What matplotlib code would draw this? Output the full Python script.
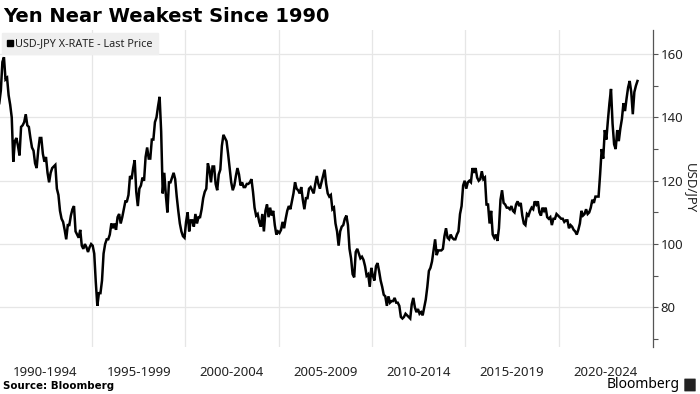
import matplotlib
matplotlib.use("Agg")
import matplotlib.pyplot as plt
from matplotlib.lines import Line2D
from matplotlib.patches import FancyBboxPatch
import numpy as np
import pandas as pd

# monthly USD-JPY readings, Jan 1990 - Mar 2024
usdjpy = [
    144.5, 148.5, 157.5, 159.0, 152.0, 152.5, 147.0, 144.0, 140.0, 126.0, 132.5, 133.5,  # 1990
    131.0, 128.0, 137.0, 137.5, 138.5, 141.0, 137.5, 137.0, 133.5, 130.5, 129.5, 125.5,  # 1991
    124.0, 129.5, 133.5, 133.5, 128.5, 126.0, 127.5, 122.5, 119.5, 122.5, 124.0, 124.5,  # 1992
    125.0, 117.5, 115.5, 110.5, 108.0, 107.0, 104.5, 101.5, 106.0, 106.0, 109.0, 111.0,  # 1993
    112.0, 104.0, 103.0, 102.0, 104.5, 99.5, 98.5, 100.0, 99.0, 97.5, 99.0, 100.0,  # 1994
    99.5, 97.0, 88.0, 80.5, 84.5, 84.5, 88.5, 97.0, 100.0, 101.5, 101.5, 103.0,  # 1995
    106.5, 105.0, 106.5, 104.5, 108.5, 109.5, 106.5, 108.5, 111.0, 113.5, 113.5, 115.5,  # 1996
    121.5, 120.5, 124.0, 126.5, 116.5, 112.0, 117.5, 118.5, 121.0, 120.0, 127.5, 130.5,  # 1997
    127.0, 127.0, 133.0, 133.0, 138.5, 140.0, 143.5, 146.5, 135.5, 116.0, 122.5, 115.5,  # 1998
    110.0, 119.5, 119.5, 121.0, 122.5, 120.5, 115.0, 110.5, 106.5, 104.0, 102.5, 102.0,  # 1999
    107.0, 110.0, 104.0, 107.5, 107.5, 105.5, 109.5, 106.5, 108.5, 108.5, 111.0, 114.5,  # 2000
    116.5, 117.5, 125.5, 123.5, 119.5, 124.5, 124.5, 119.0, 117.0, 122.0, 123.5, 131.0,  # 2001
    134.5, 133.5, 132.5, 128.5, 124.0, 119.5, 117.0, 118.5, 121.5, 124.0, 122.0, 118.5,  # 2002
    119.5, 118.0, 118.0, 119.0, 119.0, 119.5, 120.5, 116.5, 111.5, 109.0, 109.5, 107.0,  # 2003
    105.5, 109.5, 104.0, 110.5, 112.5, 108.5, 111.5, 109.0, 110.5, 106.0, 103.0, 104.0,  # 2004
    103.5, 104.5, 107.0, 105.0, 108.0, 110.5, 112.0, 111.0, 113.5, 116.0, 119.5, 117.5,  # 2005
    117.0, 116.0, 118.0, 114.0, 111.0, 114.5, 114.5, 117.5, 118.0, 117.0, 116.0, 119.0,  # 2006
    121.5, 119.0, 117.5, 119.5, 121.5, 123.5, 119.0, 116.0, 115.0, 115.5, 111.0, 111.5,  # 2007
    106.5, 104.0, 99.5, 104.0, 105.5, 106.0, 108.0, 109.0, 106.0, 98.5, 95.5, 90.5,  # 2008
    89.5, 97.5, 98.5, 97.0, 95.5, 96.0, 95.0, 93.0, 90.0, 90.5, 86.5, 92.5,  # 2009
    90.0, 88.5, 93.0, 94.0, 91.5, 88.5, 86.5, 84.0, 83.5, 80.5, 83.5, 81.5,  # 2010
    82.0, 82.0, 83.0, 81.5, 81.5, 80.5, 77.0, 76.5, 77.0, 78.0, 77.5, 77.0,  # 2011
    76.5, 81.0, 83.0, 80.0, 78.5, 79.5, 78.0, 78.5, 77.5, 80.0, 82.5, 86.5,  # 2012
    91.5, 92.5, 94.5, 98.0, 101.5, 96.5, 98.0, 98.0, 98.0, 98.5, 102.5, 105.0,  # 2013
    102.0, 101.5, 103.0, 102.0, 101.5, 101.5, 103.0, 104.0, 109.5, 112.0, 118.5, 120.0,  # 2014
    117.5, 119.5, 120.0, 119.5, 124.0, 122.5, 124.0, 121.0, 120.0, 120.5, 123.0, 120.5,  # 2015
    121.0, 112.5, 112.5, 106.5, 110.5, 103.0, 102.0, 103.0, 101.0, 105.0, 114.0, 117.0,  # 2016
    113.0, 112.5, 111.5, 111.5, 111.0, 112.0, 110.5, 110.0, 112.5, 113.5, 112.0, 113.0,  # 2017
    109.0, 106.5, 106.0, 109.5, 109.0, 110.5, 111.5, 111.0, 113.5, 112.5, 113.5, 110.0,  # 2018
    109.0, 111.5, 110.5, 111.5, 108.5, 108.0, 108.5, 106.0, 108.0, 108.0, 109.5, 109.0,  # 2019
    108.5, 108.0, 108.0, 107.0, 107.5, 107.5, 105.0, 106.0, 105.5, 104.5, 104.0, 103.0,  # 2020
    104.5, 106.5, 110.5, 109.0, 109.5, 111.0, 109.5, 110.0, 111.5, 114.0, 113.0, 115.0,  # 2021
    115.0, 115.0, 122.0, 130.0, 127.0, 136.0, 133.0, 139.0, 144.5, 149.0, 138.0, 131.5,  # 2022
    130.0, 136.0, 132.5, 136.5, 139.5, 144.5, 142.0, 146.0, 149.5, 151.5, 148.0, 141.0,  # 2023
    148.0, 150.0, 151.5,  # 2024
]

period_labels = ["1990-1994", "1995-1999", "2000-2004", "2005-2009",
                 "2010-2014", "2015-2019", "2020-2024"]
period_starts = [1990, 1995, 2000, 2005, 2010, 2015, 2020]
y_ticks = [80, 100, 120, 140, 160]

dates = pd.date_range("1990-01-01", periods=len(usdjpy), freq="MS")
t = dates.year + (dates.month - 0.5) / 12

fig = plt.figure(figsize=(7, 3.94), dpi=100)
ax = fig.add_axes([0.0, 47 / 394, 653 / 700, 317 / 394])

ax.plot(t, usdjpy, color="black", linewidth=1.8, solid_joinstyle="miter")

ax.set_xlim(1990.08, 2025.04)
ax.set_ylim(67.5, 167.6)

# period labels centred, grid on period boundaries
ax.set_xticks([s + 2.5 for s in period_starts])
ax.set_xticklabels(period_labels, fontsize=9.5, family="Noto Sans", color="#222222")
ax.set_xticks(period_starts[1:], minor=True)
ax.tick_params(axis="x", which="both", length=0, pad=14)
ax.grid(axis="x", which="minor", color="#e6e6e6", linewidth=0.9)

# right-hand price axis
ax.yaxis.tick_right()
ax.set_yticks(y_ticks)
ax.set_yticks(np.arange(70, 170, 10), minor=True)
ax.tick_params(axis="y", which="both", direction="out", length=3.5, width=0.8,
               color="#555555", labelsize=9.5, labelcolor="#222222", pad=2)
for lab in ax.get_yticklabels():
    lab.set_family("Noto Sans")
ax.grid(axis="y", which="major", color="#e6e6e6", linewidth=0.9)

for side in ["top", "left", "bottom"]:
    ax.spines[side].set_visible(False)
ax.spines["right"].set_color("#555555")
ax.spines["right"].set_linewidth(0.9)

fig.text(690 / 700, 1 - 188 / 394, "USD/JPY", rotation=270, fontsize=9.5,
         family="Noto Sans", color="#222222", ha="center", va="center")

# legend box
handle = Line2D([], [], marker="s", linestyle="", color="black", markersize=5)
leg = ax.legend([handle], ["USD-JPY X-RATE - Last Price"], loc="upper left",
                bbox_to_anchor=(0.0, 0.996), frameon=True, fancybox=False,
                facecolor="#efefef", edgecolor="#efefef", framealpha=1,
                handlelength=0.5, handletextpad=0.25, borderpad=0.45,
                borderaxespad=0.2, prop={"family": "Noto Sans", "size": 7.8})
for txt in leg.get_texts():
    txt.set_color("#222222")

fig.text(3 / 700, 1 - 17 / 394, "Yen Near Weakest Since 1990", fontsize=14,
         fontweight="bold", va="center", ha="left", color="black")
fig.text(3 / 700, 1 - 386 / 394, "Source: Bloomberg", fontsize=7.4,
         fontweight="bold", va="center", ha="left", color="black")
fig.text(680 / 700, 1 - 385 / 394, "Bloomberg", fontsize=10, family="Noto Sans",
         fontweight="bold", va="center", ha="right", color="black")
logo = FancyBboxPatch((685 / 700, 1 - 391 / 394), 10 / 700, 12 / 394,
                      boxstyle="round,pad=0.001", transform=fig.transFigure,
                      facecolor="#222222", edgecolor="none")
fig.patches.append(logo)

fig.savefig("out.png", dpi=100)
plt.close(fig)
